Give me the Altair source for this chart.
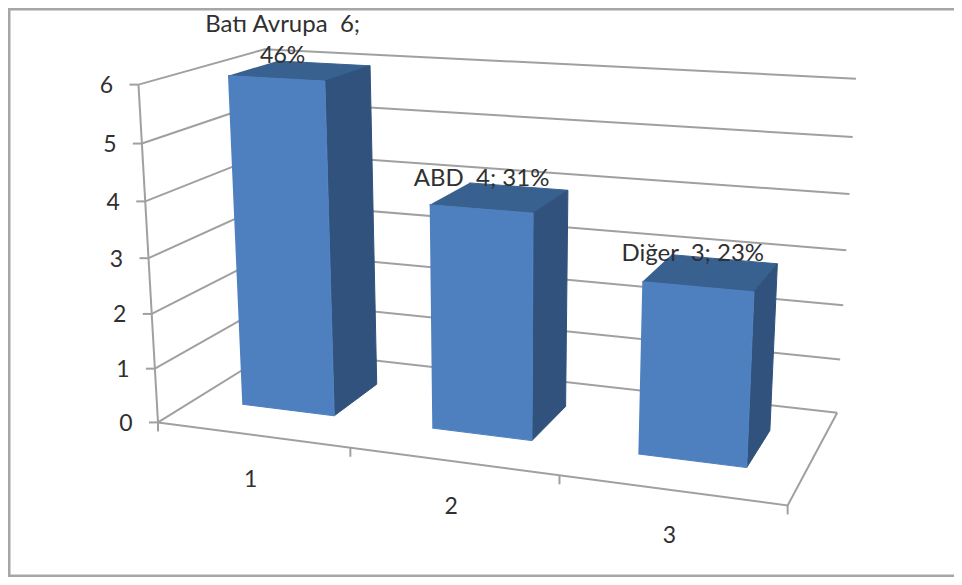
import numpy as np
import pandas as pd
import altair as alt

# Chart values
categories = [1, 2, 3]
names = ["Batı Avrupa\u00a0 6;", "ABD\u00a0 4;", "Diğer\u00a0 3;"]
values = [6, 4, 3]
shares = ["46%", "31%", "23%"]
y_ticks = [0, 1, 2, 3, 4, 5, 6]

GRID = "#a0a0a0"
TEXT = "#303030"
FONT = "Lato"
W, H = 946, 569

# Camera fitted to the wall and floor corners: (cat, depth, value) -> page pixel
world = [(0, 0, 0), (0, 0, 6), (3, 0, 0), (3, 1, 0), (0, 1, 0), (0, 1, 6), (3, 1, 6), (0, 0, 5), (3, 1, 3)]
page = [(157, 423), (139, 84), (787, 506), (837, 412), (277, 349), (263, 50), (856, 79), (143, 143), (847, 250)]
A = []
for (a, b, c), (u, v) in zip(world, page):
    A.append([a, b, c, 1, 0, 0, 0, 0, -u * a, -u * b, -u * c, -u])
    A.append([0, 0, 0, 0, a, b, c, 1, -v * a, -v * b, -v * c, -v])
P = np.linalg.svd(np.array(A, float))[2][-1].reshape(3, 4)


def project(a, b, c):
    s = P @ np.array([a, b, c, 1.0])
    return s[0] / s[2], s[1] / s[2]


lines, polys, texts = [], [], []


def add_line(key, pts):
    for i, (x, y) in enumerate(pts):
        lines.append(dict(key=key, i=i, x=x, y=y))


for z in y_ticks:
    add_line(f"grid{z}", [project(0, 0, z), project(0, 1, z), project(3, 1, z)])
    x0, y0 = project(0, 0, z)
    add_line(f"ytick{z}", [(x0 - 9, y0), (x0, y0)])
    texts.append(dict(x=x0 - 32, y=y0 + 1.5, t=str(z), size=23))
add_line("axisY", [project(0, 0, 0), project(0, 0, 6)])
add_line("floor", [project(0, 0, 0), project(3, 0, 0), project(3, 1, 0)])
for k in range(4):
    x0, y0 = project(k, 0, 0)
    add_line(f"xtick{k}", [(x0, y0), (x0, y0 + 9)])

half_width, d0, d1 = 0.247, 0.3, 0.71
for idx, (cat, val) in enumerate(zip(categories, values)):
    xl, xr = cat - 0.5 - half_width, cat - 0.5 + half_width
    faces = [
        ("top", "#39618f", [(xl, d0, val), (xr, d0, val), (xr, d1, val), (xl, d1, val)]),
        ("side", "#31527c", [(xr, d0, 0), (xr, d1, 0), (xr, d1, val), (xr, d0, val)]),
        ("front", "#4e80bf", [(xl, d0, 0), (xr, d0, 0), (xr, d0, val), (xl, d0, val)]),
    ]
    for fname, col, corners in faces:
        for i, c in enumerate(corners):
            x, y = project(*c)
            polys.append(dict(key=f"{cat}{fname}", i=i, x=x, y=y, col=col))
    xc, yc = project(cat - 0.5, 0, 0)
    texts.append(dict(x=xc - 1.5, y=yc + 45.5, t=str(cat), size=23))
    xt, yt = project(cat - 0.5, 0.5, val)
    if idx == 0:
        texts.append(dict(x=xt - 17, y=yt - 46, t=names[idx], size=24))
        texts.append(dict(x=xt - 17, y=yt - 15, t=shares[idx], size=23))
    else:
        texts.append(dict(x=xt - 18, y=yt - 19, t=f"{names[idx]} {shares[idx]}", size=24))

X = alt.X("x:Q", scale=alt.Scale(domain=[8, 8 + W], range=[0, W], nice=False, zero=False), axis=None)
Y = alt.Y("y:Q", scale=alt.Scale(domain=[8 + H, 8], range=[H, 0], nice=False, zero=False), axis=None)

line_layer = alt.Chart(pd.DataFrame(lines)).mark_line(color=GRID, strokeWidth=2).encode(
    x=X, y=Y, detail="key:N", order="i:Q"
)
poly_layer = alt.Chart(pd.DataFrame(polys)).mark_line(strokeWidth=1, strokeJoin="round").encode(
    x=X, y=Y, detail="key:N", order="i:Q",
    fill=alt.Fill("col:N", scale=None),
    stroke=alt.Stroke("col:N", scale=None),
)
text_layer = alt.Chart(pd.DataFrame(texts)).mark_text(
    font=FONT, color=TEXT, align="center", baseline="middle"
).encode(x=X, y=Y, text="t:N", size=alt.Size("size:Q", scale=None, legend=None))

frame = pd.DataFrame({"key": ["f", "f", "f", "f"], "i": [0, 1, 2, 3],
                      "x": [954, 9, 9, 954], "y": [9, 9, 576, 576]})
frame_layer = alt.Chart(frame).mark_line(color="#a6a6a6", strokeWidth=3).encode(
    x=X, y=Y, detail="key:N", order="i:Q"
)

chart = alt.layer(frame_layer, line_layer, poly_layer, text_layer).properties(
    width=W, height=H, padding=0, background="white",
    autosize=alt.AutoSizeParams(type="none"),
).configure_view(stroke=None)

chart.save("out.html", embed_options={"renderer": "svg", "actions": False})
